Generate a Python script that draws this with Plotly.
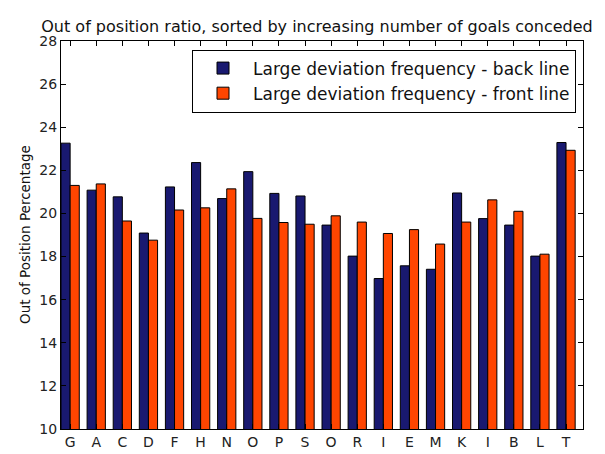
import plotly.graph_objects as go

teams = ["G", "A", "C", "D", "F", "H", "N", "O", "P", "S",
         "O", "R", "I", "E", "M", "K", "I", "B", "L", "T"]
back_line = [23.26, 21.08, 20.77, 19.09, 21.23, 22.36, 20.69, 21.94, 20.93, 20.81,
             19.46, 18.02, 16.98, 17.57, 17.41, 20.95, 19.76, 19.46, 18.02, 23.29]
front_line = [21.30, 21.37, 19.65, 18.76, 20.16, 20.26, 21.14, 19.77, 19.58, 19.50,
              19.89, 19.60, 19.07, 19.25, 18.58, 19.60, 20.63, 20.10, 18.11, 22.93]

bar_w = 0.35
idx = list(range(len(teams)))

fig = go.Figure()
fig.add_trace(go.Bar(
    x=idx, y=back_line, width=bar_w, offset=0,
    name="Large deviation frequency - back line",
    marker=dict(color="#191970", line=dict(color="black", width=1)),
))
fig.add_trace(go.Bar(
    x=idx, y=front_line, width=bar_w, offset=bar_w,
    name="Large deviation frequency - front line",
    marker=dict(color="#FF4500", line=dict(color="black", width=1)),
))

axis_font = dict(family="DejaVu Sans", size=14, color="#222222")
fig.update_layout(
    width=605, height=454,
    margin=dict(l=53, r=30, t=33, b=17),
    paper_bgcolor="white", plot_bgcolor="white",
    barmode="overlay",
    showlegend=True,
    font=dict(family="DejaVu Sans", color="#222222"),
    title=dict(
        text="Out of position ratio, sorted by increasing number of goals conceded",
        x=309 / 605, xref="container", xanchor="center",
        y=1 - 18 / 454, yref="container", yanchor="middle",
        font=dict(family="DejaVu Sans", size=16, color="#111111"),
    ),
    xaxis=dict(
        range=[0, 20],
        tickvals=[i + bar_w for i in idx], ticktext=teams,
        ticks="inside", ticklen=5, tickcolor="black",
        showline=True, linecolor="black", linewidth=1, mirror="ticks",
        showgrid=False, zeroline=False, tickfont=axis_font,
    ),
    yaxis=dict(
        range=[10, 28], dtick=2,
        ticks="inside", ticklen=5, tickcolor="black",
        showline=True, linecolor="black", linewidth=1, mirror="ticks",
        showgrid=False, zeroline=False, tickfont=axis_font,
    ),
    legend=dict(
        x=0.9866, y=0.978, xanchor="right", yanchor="top",
        bordercolor="black", borderwidth=1, bgcolor="white",
        itemwidth=50,
        font=dict(family="DejaVu Sans", size=17, color="#111111"),
    ),
    annotations=[dict(
        text="Out of Position Percentage",
        xref="paper", yref="paper", x=0, y=0.5,
        xanchor="center", yanchor="middle", xshift=-36,
        textangle=-90, showarrow=False,
        font=dict(family="DejaVu Sans", size=13.5, color="#111111"),
    )],
)

fig.write_html("out.html")
